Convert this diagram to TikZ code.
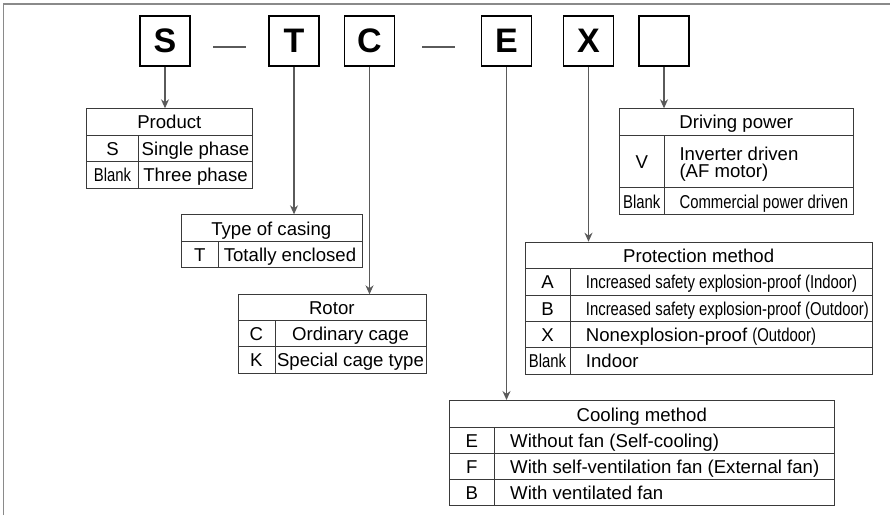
\documentclass[tikz,border=0pt]{standalone}
\usepackage{fontspec}
\usepackage{graphicx}
\setmainfont{Liberation Sans}
\usetikzlibrary{arrows.meta}
\definecolor{tline}{HTML}{3A3A3A}
\definecolor{cline}{HTML}{5A5A5A}
\definecolor{fline}{HTML}{8A8A8A}
\newcommand{\cnd}[1]{\scalebox{0.8}[1]{#1}}
\begin{document}
\begin{tikzpicture}[x=1pt,y=-1pt,
  codebox/.style={draw=black, line width=1.8pt, minimum width=50pt, minimum height=50pt, inner sep=0pt, font=\fontsize{34}{34}\selectfont\bfseries},
  tbl/.style={draw=tline, line width=1pt, inner sep=0pt, anchor=north west},
  grid/.style={draw=tline, line width=1pt},
  txt/.style={font=\fontsize{18.6}{20}\selectfont, inner sep=0pt, text height=13.3pt, text depth=0pt},
  ltxt/.style={txt, anchor=west},
  conn/.style={draw=cline, line width=1.1pt},
  arr/.style={conn, -{Stealth[length=9pt,width=8pt]}}
]
\useasboundingbox (0,0) rectangle (890,515);
% frame
\draw[draw=fline, line width=1.6pt] (3.5,515) -- (3.5,4) -- (890,4);

% code boxes
\node[codebox] (bS) at (165,41) {S};
\node[codebox] (bT) at (294,41) {T};
\node[codebox] (bC) at (369.5,41) {C};
\node[codebox] (bE) at (506.5,41) {E};
\node[codebox] (bX) at (588.5,41) {X};
\node[codebox] (bB) at (664,41) {};
\draw[conn] (213,47) -- (246,47);
\draw[conn] (422,47) -- (455,47);

% Product table
\node[tbl, minimum width=166pt, minimum height=79.4pt] (prod) at (86.3,108.3) {};
\draw[grid] (86.3,135) -- (252.3,135) (86.3,161.7) -- (252.3,161.7) (138.7,135) -- (138.7,187.7);
\node[txt] (prodh) at (169.3,122.2) {Product};
\node[txt] (prodk1) at (112.5,148.8) {S};
\node[txt] (prodv1) at (195.5,148.8) {Single phase};
\node[txt] (prodk2) at (112.5,175.2) {\cnd{Blank}};
\node[txt] (prodv2) at (195.5,175.2) {Three phase};

% Type of casing table
\node[tbl, minimum width=180.7pt, minimum height=53pt] (cas) at (181,214.3) {};
\draw[grid] (181,241.7) -- (361.7,241.7) (218.3,241.7) -- (218.3,267.3);
\node[txt] (cash) at (271.3,228.5) {Type of casing};
\node[txt] (cask1) at (199.7,255) {T};
\node[txt] (casv1) at (290,255) {Totally enclosed};

% Rotor table
\node[tbl, minimum width=188.3pt, minimum height=78.7pt] (rot) at (237.7,294.3) {};
\draw[grid] (237.7,320) -- (426,320) (237.7,346.7) -- (426,346.7) (275,320) -- (275,373);
\node[txt] (roth) at (331.8,307.7) {Rotor};
\node[txt] (rotk1) at (256.3,333.8) {C};
\node[txt] (rotv1) at (350.5,333.8) {Ordinary cage};
\node[txt] (rotk2) at (256.3,360.3) {K};
\node[txt] (rotv2) at (350.5,360.3) {Special cage type};

% Driving power table
\node[tbl, minimum width=234pt, minimum height=106pt] (drv) at (619.3,108.3) {};
\draw[grid] (619.3,135) -- (853.3,135) (619.3,187.7) -- (853.3,187.7) (664.3,135) -- (664.3,214.3);
\node[txt] (drvh) at (736.3,122.2) {Driving power};
\node[txt] (drvk1) at (641.8,161.5) {V};
\node[ltxt] (drvv1a) at (679.3,153.5) {Inverter driven};
\node[ltxt] (drvv1b) at (679.3,171.2) {(AF motor)};
\node[txt] (drvk2) at (641.8,201.5) {\cnd{Blank}};
\node[ltxt] (drvv2) at (679.3,201.5) {\cnd{Commercial power driven}};

% Protection method table
\node[tbl, minimum width=347.3pt, minimum height=132pt] (pro) at (525,241.7) {};
\draw[grid] (525,268.7) -- (872.3,268.7) (525,295) -- (872.3,295) (525,321.5) -- (872.3,321.5) (525,347.7) -- (872.3,347.7) (570,268.7) -- (570,373.7);
\node[txt] (proh) at (698.7,255.7) {Protection method};
\node[txt] (prok1) at (547.5,282.3) {A};
\node[ltxt] (prov1) at (585.7,282.3) {\cnd{Increased safety explosion-proof (Indoor)}};
\node[txt] (prok2) at (547.5,308.7) {B};
\node[ltxt] (prov2) at (585.7,308.7) {\cnd{Increased safety explosion-proof (Outdoor)}};
\node[txt] (prok3) at (547.5,335.1) {X};
\node[ltxt] (prov3) at (585.7,335.1) {Nonexplosion-proof \cnd{(Outdoor)}};
\node[txt] (prok4) at (547.5,361.2) {\cnd{Blank}};
\node[ltxt] (prov4) at (585.7,361.2) {Indoor};

% Cooling method table
\node[tbl, minimum width=385pt, minimum height=105pt] (coo) at (449.3,400) {};
\draw[grid] (449.3,427.7) -- (834.3,427.7) (449.3,453.3) -- (834.3,453.3) (449.3,479.3) -- (834.3,479.3) (494.3,427.7) -- (494.3,505);
\node[txt] (cooh) at (641.8,414.5) {Cooling method};
\node[txt] (cook1) at (471.8,441) {E};
\node[ltxt] (coov1) at (510,441) {Without fan (Self-cooling)};
\node[txt] (cook2) at (471.8,466.8) {F};
\node[ltxt] (coov2) at (510,466.8) {With self-ventilation fan (External fan)};
\node[txt] (cook3) at (471.8,492.7) {B};
\node[ltxt] (coov3) at (510,492.7) {With ventilated fan};

% connectors
\draw[arr] (bS.south) -- (bS.south |- prod.north);
\draw[arr] (bT.south) -- (bT.south |- cas.north);
\draw[arr] (bC.south) -- (bC.south |- rot.north);
\draw[arr] (bE.south) -- (bE.south |- coo.north);
\draw[arr] (bX.south) -- (bX.south |- pro.north);
\draw[arr] (bB.south) -- (bB.south |- drv.north);
\end{tikzpicture}
\end{document}
